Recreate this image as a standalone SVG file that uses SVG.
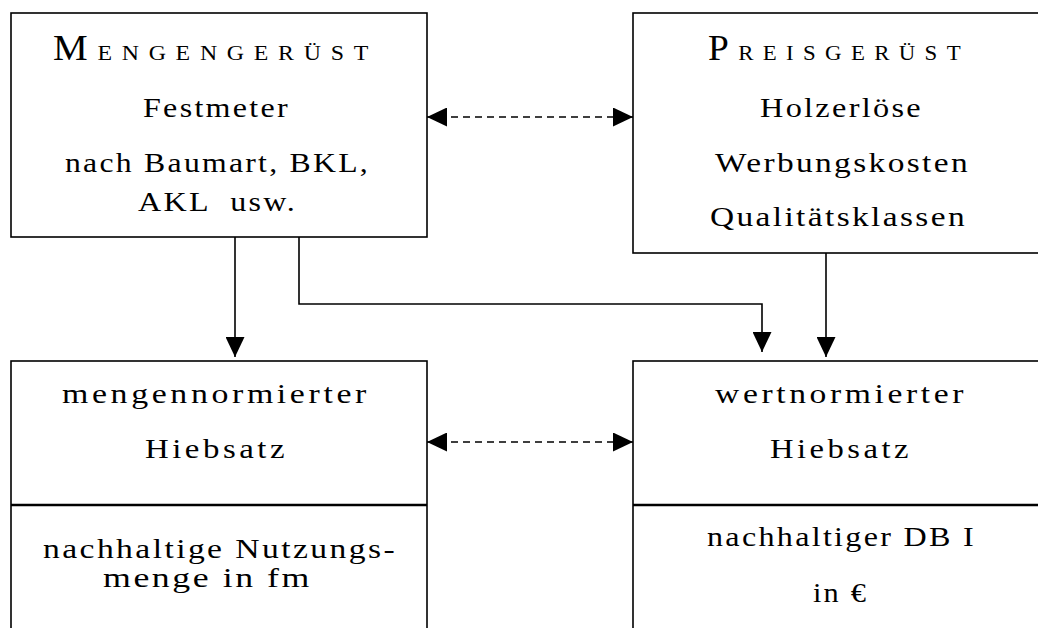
<svg xmlns="http://www.w3.org/2000/svg" width="1038" height="628" viewBox="0 0 1038 628">
<style>
.box{fill:#fff;stroke:#000;stroke-width:1.6}
.div{stroke:#000;stroke-width:2.4}
.t{font-family:"Liberation Serif","Times New Roman",serif;font-size:28px;fill:#000;text-anchor:start;letter-spacing:2px}
.hd{letter-spacing:9px}
.ls3{letter-spacing:3px}
.con{fill:none;stroke:#000;stroke-width:1.6}
.dash{stroke-dasharray:7 5}
</style>
<defs>
<marker id="ah" markerUnits="userSpaceOnUse" markerWidth="20" markerHeight="19" refX="20" refY="9.5" orient="auto-start-reverse" viewBox="0 0 20 19">
<path d="M0,0 L20,9.5 L0,19 z" fill="#000"/>
</marker>
</defs>
<g id="mengengeruest">
<rect class="box" x="11" y="13" width="416" height="224"/>
<text class="t hd" x="53" y="60" textLength="325" lengthAdjust="spacingAndGlyphs"><tspan font-size="36">M</tspan><tspan font-size="22">ENGENGERÜST</tspan></text>
<text class="t" x="143" y="117" textLength="147" lengthAdjust="spacingAndGlyphs">Festmeter</text>
<text class="t" x="65" y="172" textLength="305" lengthAdjust="spacingAndGlyphs">nach Baumart, BKL,</text>
<text class="t" x="138" y="211" textLength="159" lengthAdjust="spacingAndGlyphs" xml:space="preserve">AKL  usw.</text>
</g>
<g id="preisgeruest">
<rect class="box" x="633" y="13" width="420" height="240"/>
<text class="t hd" x="708" y="60" textLength="262" lengthAdjust="spacingAndGlyphs"><tspan font-size="36">P</tspan><tspan font-size="22">REISGERÜST</tspan></text>
<text class="t" x="760" y="117" textLength="163" lengthAdjust="spacingAndGlyphs">Holzerlöse</text>
<text class="t" x="715" y="172" textLength="255" lengthAdjust="spacingAndGlyphs">Werbungskosten</text>
<text class="t" x="710" y="226" textLength="257" lengthAdjust="spacingAndGlyphs">Qualitätsklassen</text>
</g>
<g id="mengennormiert">
<rect class="box" x="11" y="361" width="416" height="290"/>
<line class="div" x1="11" y1="505" x2="427" y2="505"/>
<text class="t ls3" x="62" y="403" textLength="308" lengthAdjust="spacingAndGlyphs">mengennormierter</text>
<text class="t ls3" x="145" y="458" textLength="143" lengthAdjust="spacingAndGlyphs">Hiebsatz</text>
<text class="t" x="43" y="558" textLength="354" lengthAdjust="spacingAndGlyphs">nachhaltige Nutzungs-</text>
<text class="t" x="103" y="587" textLength="209" lengthAdjust="spacingAndGlyphs">menge in fm</text>
</g>
<g id="wertnormiert">
<rect class="box" x="633" y="361" width="420" height="290"/>
<line class="div" x1="633" y1="505" x2="1053" y2="505"/>
<text class="t ls3" x="715" y="403" textLength="252" lengthAdjust="spacingAndGlyphs">wertnormierter</text>
<text class="t ls3" x="770" y="458" textLength="142" lengthAdjust="spacingAndGlyphs">Hiebsatz</text>
<text class="t" x="707" y="546" textLength="269" lengthAdjust="spacingAndGlyphs">nachhaltiger DB I</text>
<text class="t" x="813" y="602" textLength="55" lengthAdjust="spacingAndGlyphs">in €</text>
</g>
<g id="connectors">
<line class="con" x1="235" y1="237" x2="235" y2="357" marker-end="url(#ah)"/>
<polyline class="con" points="299,237 299,304 762,304 762,352" marker-end="url(#ah)"/>
<line class="con" x1="826" y1="253" x2="826" y2="357" marker-end="url(#ah)"/>
<line class="con dash" x1="427" y1="117" x2="633" y2="117" marker-start="url(#ah)" marker-end="url(#ah)"/>
<line class="con dash" x1="427" y1="442" x2="633" y2="442" marker-start="url(#ah)" marker-end="url(#ah)"/>
</g>
</svg>
